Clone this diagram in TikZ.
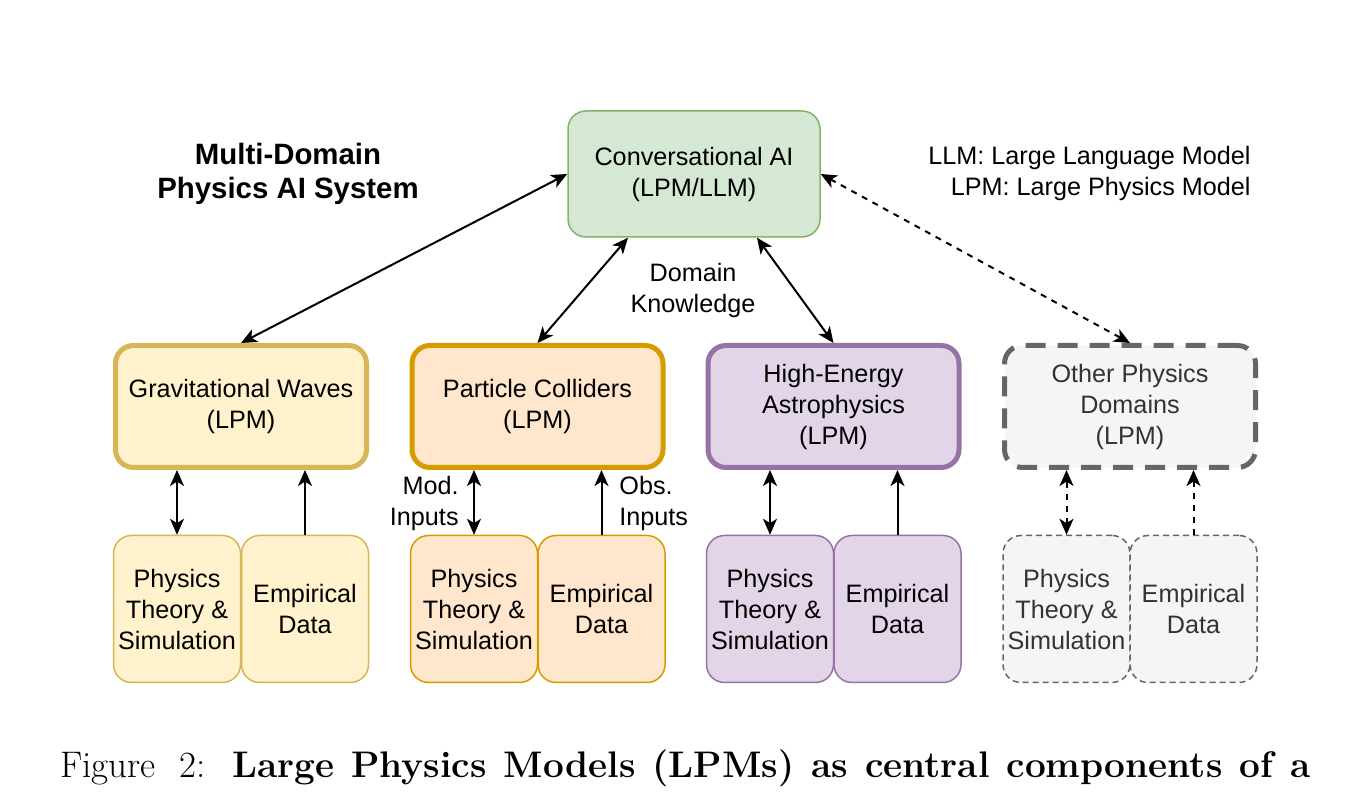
\documentclass[tikz,border=0pt]{standalone}
\usepackage{fontspec}
\newfontfamily\lib{Liberation Sans}
\usetikzlibrary{arrows.meta,calc}
\definecolor{gfill}{HTML}{D5E8D4}\definecolor{gline}{HTML}{82B366}
\definecolor{yfill}{HTML}{FFF2CC}\definecolor{yline}{HTML}{D6B656}
\definecolor{ofill}{HTML}{FFE6CC}\definecolor{oline}{HTML}{D79B00}
\definecolor{pfill}{HTML}{E1D5E7}\definecolor{pline}{HTML}{9673A6}
\definecolor{sfill}{HTML}{F5F5F5}\definecolor{sline}{HTML}{666666}
\definecolor{stext}{HTML}{333333}
\begin{document}
\begin{tikzpicture}[x=0.5pt,y=-0.5pt,
  txt/.style={font=\lib\fontsize{12.6}{15.5}\selectfont, align=center, inner sep=0pt},
  box/.style={txt, draw, rounded corners=9pt},
  lpm/.style={box, line width=2.5pt, minimum width=125.5pt, minimum height=61pt},
  src/.style={box, line width=0.75pt, minimum width=63.5pt, minimum height=73.5pt},
  conn/.style={line width=1pt, {Stealth[length=8pt,width=7pt,inset=2.2pt]}-{Stealth[length=8pt,width=7pt,inset=2.2pt]}},
  up/.style={line width=1pt, -{Stealth[length=8pt,width=7pt,inset=2.2pt]}},
  dsh/.style={dash pattern=on 3pt off 3pt}
]
\useasboundingbox (0,0) rectangle (1371,795);

% top
\node[box, fill=gfill, draw=gline, line width=0.75pt, minimum width=126pt, minimum height=63pt] (top) at (694,174) {Conversational AI\\(LPM/LLM)};

\node[txt, font=\lib\bfseries\fontsize{14.7}{17}\selectfont] (title) at (288,174) {Multi-Domain\\Physics AI System};
\node[txt, align=right, anchor=east] (legend) at (1251,173.5) {LLM: Large Language Model\\LPM: Large Physics Model};
\node[txt] (dk) at (693,290) {Domain\\Knowledge};

% LPM row
\node[lpm, fill=yfill, draw=yline] (gw) at (241,406.5) {Gravitational Waves\\(LPM)};
\node[lpm, fill=ofill, draw=oline] (pc) at (537.5,406.5) {Particle Colliders\\(LPM)};
\node[lpm, fill=pfill, draw=pline] (hea) at (833.5,406.5) {High-Energy\\Astrophysics\\(LPM)};
\node[lpm, fill=sfill, draw=sline, text=stext, dash pattern=on 10pt off 6pt] (oth) at (1130,406.5) {Other Physics\\Domains\\(LPM)};

% source boxes
\node[src, fill=yfill, draw=yline] (gwP) at (177,609) {Physics\\Theory \&\\Simulation};
\node[src, fill=yfill, draw=yline] (gwD) at (305,609) {Empirical\\Data};
\node[src, fill=ofill, draw=oline] (pcP) at (474,609) {Physics\\Theory \&\\Simulation};
\node[src, fill=ofill, draw=oline] (pcD) at (601.5,609) {Empirical\\Data};
\node[src, fill=pfill, draw=pline] (heaP) at (770,609) {Physics\\Theory \&\\Simulation};
\node[src, fill=pfill, draw=pline] (heaD) at (897.5,609) {Empirical\\Data};
\node[src, fill=sfill, draw=sline, text=stext, dash pattern=on 3pt off 2pt] (othP) at (1066.5,609) {Physics\\Theory \&\\Simulation};
\node[src, fill=sfill, draw=sline, text=stext, dash pattern=on 3pt off 2pt] (othD) at (1193.5,609) {Empirical\\Data};

% labels
\node[txt, align=right, anchor=east] (mod) at (459,503) {Mod.\\Inputs};
\node[txt, align=left, anchor=west] (obs) at (619,503) {Obs.\\Inputs};

% connectors from top
\draw[conn] (top.west) -- (gw.north);
\draw[conn] ($(top.south)+(-66,0)$) -- (pc.north);
\draw[conn] ($(top.south)+(63,0)$) -- (hea.north);
\draw[conn, dsh] (top.east) -- (oth.north);

% vertical connectors
\draw[conn] (gwP.north) -- (gwP.north |- gw.south);
\draw[up] (gwD.north) -- (gwD.north |- gw.south);
\draw[conn] (pcP.north) -- (pcP.north |- pc.south);
\draw[up] (pcD.north) -- (pcD.north |- pc.south);
\draw[conn] (heaP.north) -- (heaP.north |- hea.south);
\draw[up] (heaD.north) -- (heaD.north |- hea.south);
\draw[conn, dsh] (othP.north) -- (othP.north |- oth.south);
\draw[up, dsh] (othD.north) -- (othD.north |- oth.south);

% caption
\node[anchor=base west, inner sep=0pt, font=\fontsize{18.5}{22}\selectfont] (cap) at (60,778) {\makebox[72.5pt][s]{Figure 2:}\hspace{13.5pt}\makebox[539pt][s]{\textbf{Large Physics Models (LPMs) as central components of a}}};
\end{tikzpicture}
\end{document}
